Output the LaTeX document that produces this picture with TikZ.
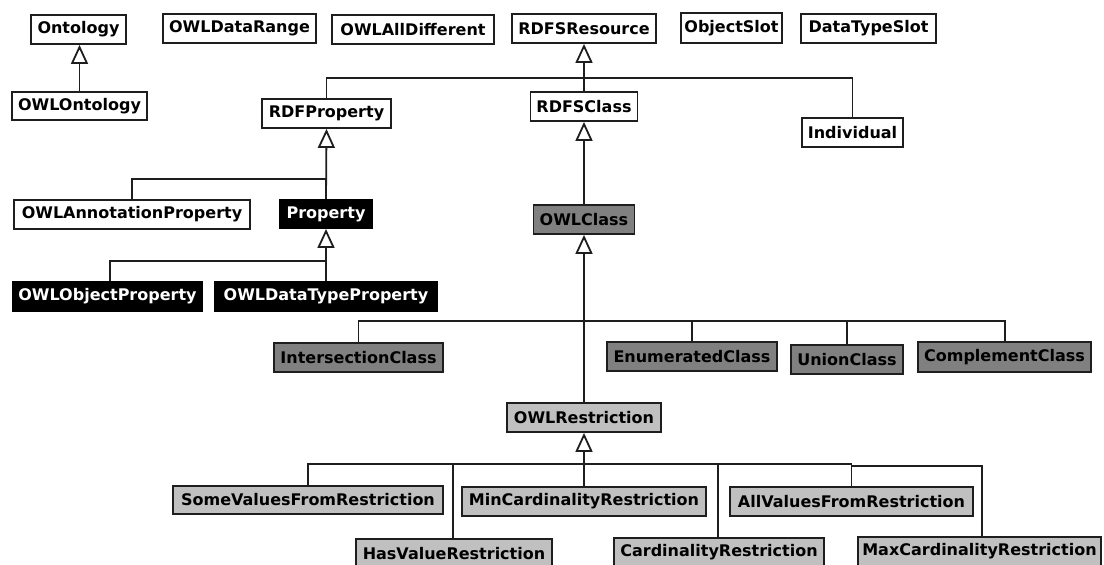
\documentclass[tikz,border=0pt]{standalone}
\usepackage{fontspec}
\setmainfont{DejaVu Sans}
\usetikzlibrary{arrows.meta}
\definecolor{edge}{HTML}{1E1E1E}
\definecolor{owlgray}{HTML}{808080}
\definecolor{restrgray}{HTML}{C0C0C0}
\begin{document}
\begin{tikzpicture}[x=1pt,y=-1pt,
  cls/.style={draw=edge, line width=1.8pt, fill=white, inner sep=0pt,
    font=\fontsize{16}{18}\selectfont\bfseries, text=black},
  plain/.style={cls},
  core/.style={cls, fill=black, draw=black, text=white},
  owl/.style={cls, fill=owlgray},
  restr/.style={cls, fill=restrgray},
  link/.style={draw=edge, line width=1.8pt},
  gen/.style={link, -{Triangle[open, fill=white, length=19pt, width=17pt, line width=1.8pt]}}
]
\useasboundingbox (0,0) rectangle (1104,565);
\clip (0,0) rectangle (1104,565);

% top row
\node[plain, minimum width=95pt,  minimum height=29pt] (ontology)     at (78.5,29.5)  {Ontology};
\node[plain, minimum width=153pt, minimum height=29pt] (datarange)    at (239.5,28.5) {OWLDataRange};
\node[plain, minimum width=162pt, minimum height=29pt] (alldifferent) at (413,29.5)   {OWLAllDifferent};
\node[plain, minimum width=144pt, minimum height=29pt] (rdfsresource) at (584,28.5)   {RDFSResource};
\node[plain, minimum width=101pt, minimum height=30pt] (objectslot)   at (731.5,28)   {ObjectSlot};
\node[plain, minimum width=135pt, minimum height=29pt] (datatypeslot) at (868.5,28.5) {DataTypeSlot};

% second level
\node[plain, minimum width=135pt, minimum height=28pt] (owlontology)  at (79.5,106)   {OWLOntology};
\node[plain, minimum width=129pt, minimum height=29pt] (rdfproperty)  at (326.5,113.5){RDFProperty};
\node[plain, minimum width=107pt, minimum height=29pt] (rdfsclass)    at (584,106.5)  {RDFSClass};
\node[plain, minimum width=101pt, minimum height=29pt] (individual)   at (852.5,132.5){Individual};

% properties
\node[plain, minimum width=236pt, minimum height=29pt] (annotation)   at (132,214.5)  {OWLAnnotationProperty};
\node[core,  minimum width=92pt,  minimum height=28pt] (property)     at (326,214)    {Property};
\node[core,  minimum width=189pt, minimum height=29pt] (objectprop)   at (107.5,296.5){OWLObjectProperty};
\node[core,  minimum width=222pt, minimum height=29pt] (datatypeprop) at (326,296.5)  {OWLDataTypeProperty};

% classes
\node[owl, minimum width=101pt, minimum height=29pt] (owlclass)       at (584,219.5)  {OWLClass};
\node[owl, minimum width=169pt, minimum height=29pt] (intersection)   at (358.5,357.5){IntersectionClass};
\node[owl, minimum width=170pt, minimum height=29pt] (enumerated)     at (692,356.5)  {EnumeratedClass};
\node[owl, minimum width=112pt, minimum height=29pt] (union)          at (847,359.5)  {UnionClass};
\node[owl, minimum width=173pt, minimum height=30pt] (complement)     at (1004.5,357) {ComplementClass};

% restrictions
\node[restr, minimum width=154pt, minimum height=29pt] (restriction)  at (584,417.5)  {OWLRestriction};
\node[restr, minimum width=270pt, minimum height=28pt] (somevalues)   at (308,500)    {SomeValuesFromRestriction};
\node[restr, minimum width=244pt, minimum height=29pt] (mincard)      at (584,501.5)  {MinCardinalityRestriction};
\node[restr, minimum width=243pt, minimum height=29pt] (allvalues)    at (851.5,501.5){AllValuesFromRestriction};
\node[restr, minimum width=196pt, minimum height=29pt] (hasvalue)     at (454,553.5)  {HasValueRestriction};
\node[restr, minimum width=210pt, minimum height=29pt] (cardinality)  at (719,552.5)  {CardinalityRestriction};
\node[restr, minimum width=243pt, minimum height=29pt] (maxcard)      at (979.5,551.5){MaxCardinalityRestriction};

% junction points of the shared bars
\coordinate (resbar)  at (584,78);
\coordinate (propbar) at (326,179);
\coordinate (subbar)  at (326,261);
\coordinate (clsbar)  at (584,321);
\coordinate (rbar)    at (584,464);

% Ontology
\draw[gen] (owlontology.north) -- (owlontology.north |- ontology.south);

% RDFSResource
\draw[gen] (rdfsclass.north) -- (rdfsresource.south);
\draw[link] (rdfproperty.north) |- (resbar) -| (individual.north);

% RDFProperty
\draw[gen] (property.north) -- (rdfproperty.south);
\draw[link] (annotation.north) |- (propbar);

% Property
\draw[gen] (datatypeprop.north) -- (property.south);
\draw[link] ([xshift=2.5pt]objectprop.north) |- (subbar);

% OWLClass
\draw[gen] (owlclass.north) -- (rdfsclass.south);
\draw[gen] (restriction.north) -- (owlclass.south);
\draw[link] (intersection.north) |- (clsbar) -| ([xshift=0.5pt]complement.north);
\draw[link] (enumerated.north) -- (enumerated.north |- clsbar);
\draw[link] (union.north) -- (union.north |- clsbar);

% OWLRestriction
\draw[gen] (mincard.north) -- (restriction.south);
\draw[link] (somevalues.north) |- (rbar) -| (allvalues.north);
\draw[link] (allvalues.north |- 0,466) -| ([xshift=2.5pt]maxcard.north);
\draw[link] ([xshift=-1pt]hasvalue.north) -- ([xshift=-1pt]hasvalue.north |- 0,463);
\draw[link] ([xshift=-1pt]cardinality.north) -- ([xshift=-1pt]cardinality.north |- rbar);
\end{tikzpicture}
\end{document}
